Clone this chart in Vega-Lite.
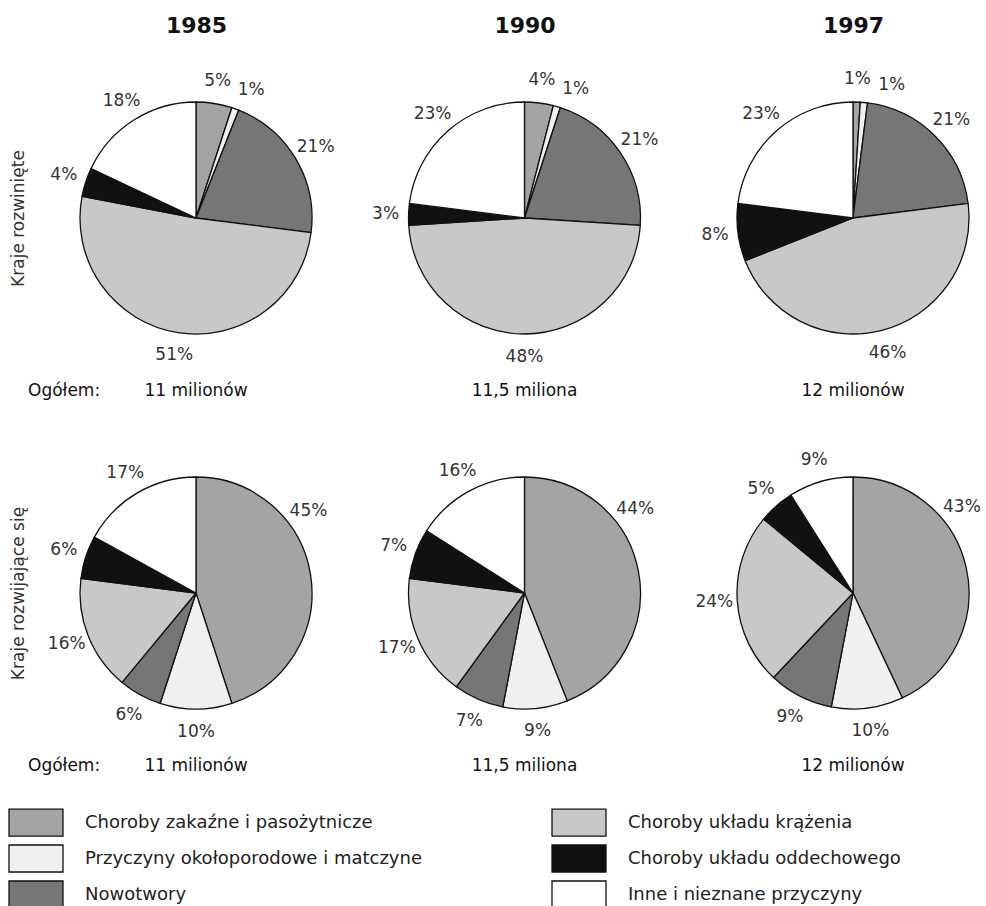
{
  "$schema": "https://vega.github.io/schema/vega-lite/v6.json",
  "width": 956,
  "height": 856,
  "autosize": "none",
  "padding": {"left": 30, "top": 50, "right": 0, "bottom": 0},
  "background": "white",
  "config": {
    "view": {"stroke": null},
    "font": "DejaVu Sans"
  },
  "datasets": {
    "shares": [
      {"year": "1985", "region": "Kraje rozwinięte", "cause": "Choroby zakaźne i pasożytnicze", "order": 1, "value": 5},
      {"year": "1985", "region": "Kraje rozwinięte", "cause": "Przyczyny okołoporodowe i matczyne", "order": 2, "value": 1},
      {"year": "1985", "region": "Kraje rozwinięte", "cause": "Nowotwory", "order": 3, "value": 21},
      {"year": "1985", "region": "Kraje rozwinięte", "cause": "Choroby układu krążenia", "order": 4, "value": 51},
      {"year": "1985", "region": "Kraje rozwinięte", "cause": "Choroby układu oddechowego", "order": 5, "value": 4},
      {"year": "1985", "region": "Kraje rozwinięte", "cause": "Inne i nieznane przyczyny", "order": 6, "value": 18},
      {"year": "1990", "region": "Kraje rozwinięte", "cause": "Choroby zakaźne i pasożytnicze", "order": 1, "value": 4},
      {"year": "1990", "region": "Kraje rozwinięte", "cause": "Przyczyny okołoporodowe i matczyne", "order": 2, "value": 1},
      {"year": "1990", "region": "Kraje rozwinięte", "cause": "Nowotwory", "order": 3, "value": 21},
      {"year": "1990", "region": "Kraje rozwinięte", "cause": "Choroby układu krążenia", "order": 4, "value": 48},
      {"year": "1990", "region": "Kraje rozwinięte", "cause": "Choroby układu oddechowego", "order": 5, "value": 3},
      {"year": "1990", "region": "Kraje rozwinięte", "cause": "Inne i nieznane przyczyny", "order": 6, "value": 23},
      {"year": "1997", "region": "Kraje rozwinięte", "cause": "Choroby zakaźne i pasożytnicze", "order": 1, "value": 1},
      {"year": "1997", "region": "Kraje rozwinięte", "cause": "Przyczyny okołoporodowe i matczyne", "order": 2, "value": 1},
      {"year": "1997", "region": "Kraje rozwinięte", "cause": "Nowotwory", "order": 3, "value": 21},
      {"year": "1997", "region": "Kraje rozwinięte", "cause": "Choroby układu krążenia", "order": 4, "value": 46},
      {"year": "1997", "region": "Kraje rozwinięte", "cause": "Choroby układu oddechowego", "order": 5, "value": 8},
      {"year": "1997", "region": "Kraje rozwinięte", "cause": "Inne i nieznane przyczyny", "order": 6, "value": 23},
      {"year": "1985", "region": "Kraje rozwijające się", "cause": "Choroby zakaźne i pasożytnicze", "order": 1, "value": 45},
      {"year": "1985", "region": "Kraje rozwijające się", "cause": "Przyczyny okołoporodowe i matczyne", "order": 2, "value": 10},
      {"year": "1985", "region": "Kraje rozwijające się", "cause": "Nowotwory", "order": 3, "value": 6},
      {"year": "1985", "region": "Kraje rozwijające się", "cause": "Choroby układu krążenia", "order": 4, "value": 16},
      {"year": "1985", "region": "Kraje rozwijające się", "cause": "Choroby układu oddechowego", "order": 5, "value": 6},
      {"year": "1985", "region": "Kraje rozwijające się", "cause": "Inne i nieznane przyczyny", "order": 6, "value": 17},
      {"year": "1990", "region": "Kraje rozwijające się", "cause": "Choroby zakaźne i pasożytnicze", "order": 1, "value": 44},
      {"year": "1990", "region": "Kraje rozwijające się", "cause": "Przyczyny okołoporodowe i matczyne", "order": 2, "value": 9},
      {"year": "1990", "region": "Kraje rozwijające się", "cause": "Nowotwory", "order": 3, "value": 7},
      {"year": "1990", "region": "Kraje rozwijające się", "cause": "Choroby układu krążenia", "order": 4, "value": 17},
      {"year": "1990", "region": "Kraje rozwijające się", "cause": "Choroby układu oddechowego", "order": 5, "value": 7},
      {"year": "1990", "region": "Kraje rozwijające się", "cause": "Inne i nieznane przyczyny", "order": 6, "value": 16},
      {"year": "1997", "region": "Kraje rozwijające się", "cause": "Choroby zakaźne i pasożytnicze", "order": 1, "value": 43},
      {"year": "1997", "region": "Kraje rozwijające się", "cause": "Przyczyny okołoporodowe i matczyne", "order": 2, "value": 10},
      {"year": "1997", "region": "Kraje rozwijające się", "cause": "Nowotwory", "order": 3, "value": 9},
      {"year": "1997", "region": "Kraje rozwijające się", "cause": "Choroby układu krążenia", "order": 4, "value": 24},
      {"year": "1997", "region": "Kraje rozwijające się", "cause": "Choroby układu oddechowego", "order": 5, "value": 5},
      {"year": "1997", "region": "Kraje rozwijające się", "cause": "Inne i nieznane przyczyny", "order": 6, "value": 9}
    ],
    "totals": [
      {"year": "1985", "region": "Kraje rozwinięte", "total": "11 milionów", "prefix": "Ogółem:"},
      {"year": "1990", "region": "Kraje rozwinięte", "total": "11,5 miliona", "prefix": ""},
      {"year": "1997", "region": "Kraje rozwinięte", "total": "12 milionów", "prefix": ""},
      {"year": "1985", "region": "Kraje rozwijające się", "total": "11 milionów", "prefix": "Ogółem:"},
      {"year": "1990", "region": "Kraje rozwijające się", "total": "11,5 miliona", "prefix": ""},
      {"year": "1997", "region": "Kraje rozwijające się", "total": "12 milionów", "prefix": ""}
    ]
  },
  "encoding": {
    "x": {
      "field": "year", "type": "ordinal",
      "scale": {"type": "point", "domain": ["1985", "1990", "1997"], "range": [166, 823], "padding": 0},
      "axis": {"orient": "top", "title": null, "domain": false, "ticks": false, "tickSize": 0, "grid": false,
               "labelPadding": 25, "labelFontSize": 22, "labelFontWeight": "bold", "labelColor": "#111",
               "labelAngle": 0, "labelBaseline": "middle", "labelAlign": "center"}
    },
    "y": {
      "field": "region", "type": "nominal",
      "scale": {"type": "point", "domain": ["Kraje rozwinięte", "Kraje rozwijające się"], "range": [168, 543], "padding": 0},
      "axis": {"orient": "left", "title": null, "domain": false, "ticks": false, "tickSize": 0, "grid": false,
               "labelAngle": -90, "labelAlign": "center", "labelBaseline": "bottom", "labelPadding": 3,
               "labelFontSize": 17, "labelColor": "#333", "labelLimit": 400}
    }
  },
  "layer": [
    {
      "data": {"name": "shares"},
      "transform": [
        {"stack": "value", "groupby": ["year", "region"], "sort": [{"field": "order", "order": "ascending"}], "as": ["start", "end"]}
      ],
      "mark": {"type": "arc", "outerRadius": 116, "stroke": "#111", "strokeWidth": 1.3},
      "encoding": {
        "theta": {"field": "start", "type": "quantitative", "scale": {"domain": [0, 100]}},
        "theta2": {"field": "end"},
        "color": {
          "field": "cause", "type": "nominal",
          "scale": {
            "domain": ["Choroby zakaźne i pasożytnicze", "Przyczyny okołoporodowe i matczyne", "Nowotwory", "Choroby układu krążenia", "Choroby układu oddechowego", "Inne i nieznane przyczyny"],
            "range": ["#a4a4a4", "#f0f0f0", "#767676", "#c8c8c8", "#111111", "#ffffff"]
          },
          "legend": {
            "orient": "none", "legendX": -22, "legendY": 758, "columns": 2, "title": null,
            "symbolType": "M-1,-1H3V1H-1Z", "symbolSize": 729, "symbolStrokeColor": "#111", "symbolStrokeWidth": 1.3,
            "symbolOpacity": 1, "labelFontSize": 18, "labelColor": "#222", "labelOffset": 48, "labelLimit": 0,
            "rowPadding": 3, "columnPadding": 127, "padding": 0
          }
        }
      }
    },
    {
      "data": {"name": "shares"},
      "transform": [
        {"stack": "value", "groupby": ["year", "region"], "sort": [{"field": "order", "order": "ascending"}], "as": ["start", "end"]},
        {"calculate": "datum.start == 0 && datum.value > 30 ? datum.value / 3 : (datum.start + datum.end) / 2", "as": "mid"},
        {"window": [{"op": "lag", "field": "mid", "as": "prevMid"}], "groupby": ["year", "region"], "sort": [{"field": "order", "order": "ascending"}]},
        {"calculate": "datum.prevMid == null ? datum.mid : max(datum.mid, datum.prevMid + 4)", "as": "pos"},
        {"calculate": "datum.value + '%'", "as": "label"}
      ],
      "mark": {"type": "text", "radius": 139, "fontSize": 17, "color": "#333", "align": "center", "baseline": "middle"},
      "encoding": {
        "theta": {"field": "pos", "type": "quantitative", "scale": {"domain": [0, 100]}},
        "text": {"field": "label"}
      }
    },
    {
      "data": {"name": "totals"},
      "mark": {"type": "text", "dy": 173, "fontSize": 17, "color": "#111", "align": "center", "baseline": "middle"},
      "encoding": {"text": {"field": "total"}}
    },
    {
      "data": {"name": "totals"},
      "transform": [{"filter": "datum.prefix != ''"}],
      "mark": {"type": "text", "dy": 173, "dx": -168, "fontSize": 17, "color": "#111", "align": "left", "baseline": "middle"},
      "encoding": {"text": {"field": "prefix"}}
    }
  ]
}
